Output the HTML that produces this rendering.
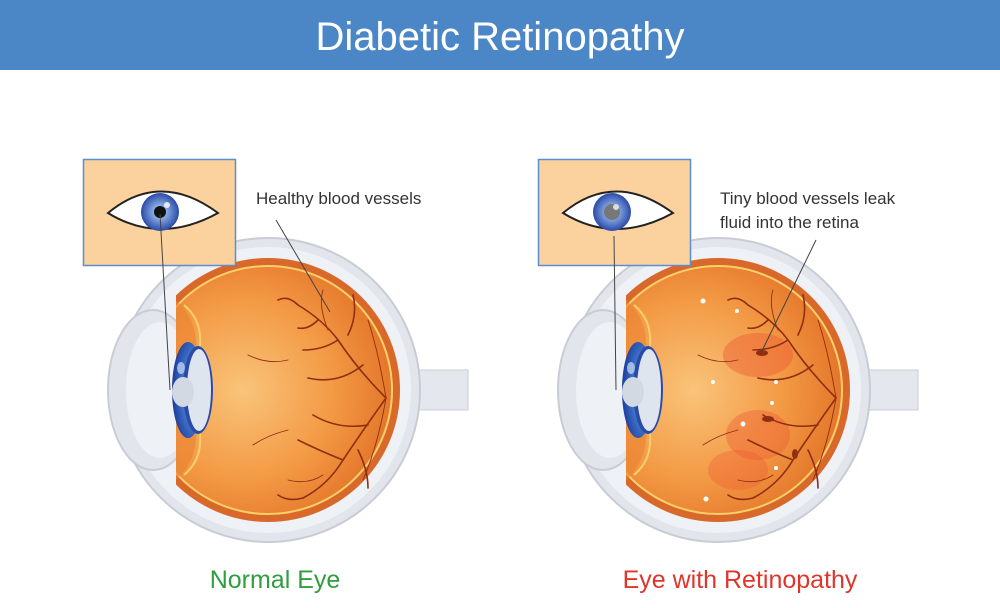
<!DOCTYPE html>
<html><head><meta charset="utf-8"><style>
html,body{margin:0;width:1000px;height:608px;overflow:hidden;background:#fff;font-family:"Liberation Sans",sans-serif}
svg{display:block}
</style></head><body>
<svg width="1000" height="608" viewBox="0 0 1000 608" xmlns="http://www.w3.org/2000/svg" font-family="Liberation Sans, sans-serif">
<defs>
<radialGradient id="org" cx="0.4" cy="0.5" r="0.6"><stop offset="0" stop-color="#f9c47a"/><stop offset="0.6" stop-color="#f39a45"/><stop offset="1" stop-color="#e4762a"/></radialGradient>
<radialGradient id="iris" cx="0.5" cy="0.5" r="0.5"><stop offset="0.3" stop-color="#8fb0e8"/><stop offset="1" stop-color="#2a4aa8"/></radialGradient>
<radialGradient id="iris2" cx="0.7" cy="0.5" r="0.7"><stop offset="0.2" stop-color="#5aa0e8"/><stop offset="1" stop-color="#1c3a9c"/></radialGradient>
<clipPath id="front"><rect x="-92" y="-140" width="240" height="280"/></clipPath>
<g id="eyeball">
  <rect x="140" y="-20" width="60" height="40" fill="#e4e8ee" stroke="#c8ccd4"/>
  <circle cx="0" cy="0" r="152" fill="#e2e6ec" stroke="#c8ccd4" stroke-width="2"/>
  <circle cx="0" cy="0" r="143" fill="#eef1f5"/>
  <ellipse cx="-115" cy="0" rx="45" ry="80" fill="#e2e6ec" stroke="#c8ccd4" stroke-width="2"/>
  <ellipse cx="-108" cy="0" rx="34" ry="68" fill="#eef1f5"/>
  <g clip-path="url(#front)">
    <circle cx="0" cy="0" r="132" fill="#d9692a"/>
    <circle cx="0" cy="0" r="124" fill="url(#org)" stroke="#fbd06a" stroke-width="2"/>
  </g>
  <path d="M-92 -90 Q-70 -70 -72 -40 L-72 40 Q-70 70 -92 90Z" fill="#ea8232" opacity="0.6"/>
  <path d="M-84 -85 Q-66 -70 -68 -45 L-68 45 Q-66 70 -84 85" fill="none" stroke="#fbd06a" stroke-width="2"/>
  <ellipse cx="-80" cy="0" rx="16" ry="48" fill="url(#iris2)"/>
  <ellipse cx="-87" cy="-22" rx="4" ry="6" fill="#cfe0f8" opacity="0.7"/>
  <ellipse cx="-70" cy="0" rx="15" ry="44" fill="#2a4aa8"/>
  <ellipse cx="-69" cy="0" rx="12" ry="41" fill="#dfe5ee"/>
  <ellipse cx="-85" cy="2" rx="11" ry="15" fill="#d3d9e2"/>
</g>
<g id="vessels" stroke="#8e2f12" fill="none" stroke-linecap="round">
  <path d="M118 8 Q90 -20 70 -50 Q55 -70 30 -85 M118 8 Q95 40 75 70 Q60 95 35 108 M70 -50 Q55 -40 35 -40 M75 70 Q50 60 30 50 M95 -25 Q70 -5 40 -12 M100 35 Q70 40 45 25 M30 -85 Q20 -95 10 -90 M50 -70 Q40 -60 30 -62 M35 108 Q20 112 10 105 M80 -55 Q90 -75 85 -95 M90 60 Q100 80 100 98" stroke-width="1.6"/>
  <path d="M118 8 Q110 -40 100 -70 M118 8 Q110 55 95 90 M60 -60 Q50 -85 55 -100 M55 85 Q40 95 20 90 M20 -30 Q0 -25 -20 -35 M20 40 Q0 45 -15 55" stroke-width="0.9"/>
</g>
</defs>
<rect x="0" y="0" width="1000" height="70" fill="#4b86c7"/>
<text x="500" y="50" text-anchor="middle" font-size="40" fill="#fff">Diabetic Retinopathy</text>

<!-- Left -->
<g transform="translate(268,390)"><use href="#eyeball"/><use href="#vessels"/></g>
<rect x="83.5" y="159.5" width="152" height="106" fill="#fbd29d" stroke="#5b8ed0" stroke-width="1.5"/>
<path d="M108 213 Q160 170 218 213 Q160 245 108 213Z" fill="#fff" stroke="#222" stroke-width="2"/>
<circle cx="160" cy="212" r="19" fill="url(#iris)"/>
<circle cx="160" cy="212" r="6" fill="#111"/>
<circle cx="167" cy="205" r="3" fill="#fff" opacity="0.8"/>
<line x1="160" y1="214" x2="170" y2="390" stroke="#444" stroke-width="1"/>
<line x1="276" y1="220" x2="330" y2="312" stroke="#444" stroke-width="1"/>
<text x="256" y="204" font-size="17" fill="#333">Healthy blood vessels</text>
<text x="275" y="588" text-anchor="middle" font-size="25" fill="#2e9e3e">Normal Eye</text>

<!-- Right -->
<g transform="translate(718,390)"><use href="#eyeball"/>
  <ellipse cx="40" cy="-35" rx="35" ry="22" fill="#ee5a35" opacity="0.45"/>
  <ellipse cx="40" cy="45" rx="32" ry="25" fill="#ee5a35" opacity="0.4"/>
  <ellipse cx="20" cy="80" rx="30" ry="20" fill="#ee5a35" opacity="0.35"/>
  <use href="#vessels"/>
  <ellipse cx="44" cy="-37" rx="6" ry="3" fill="#8e2f12"/>
  <ellipse cx="50" cy="29" rx="6" ry="3" fill="#8e2f12"/>
  <ellipse cx="77" cy="64" rx="3" ry="5" fill="#8e2f12"/>
  <g fill="#fff"><circle cx="-15" cy="-89" r="2.5"/><circle cx="19" cy="-79" r="2"/><circle cx="-5" cy="-8" r="2"/><circle cx="25" cy="34" r="2.5"/><circle cx="-12" cy="109" r="2.5"/><circle cx="58" cy="-8" r="2"/><circle cx="54" cy="13" r="2"/><circle cx="58" cy="78" r="2"/></g>
</g>
<rect x="538.5" y="159.5" width="152" height="106" fill="#fbd29d" stroke="#5b8ed0" stroke-width="1.5"/>
<path d="M563 213 Q615 170 673 213 Q615 245 563 213Z" fill="#fff" stroke="#222" stroke-width="2"/>
<circle cx="612" cy="212" r="19" fill="url(#iris)"/>
<circle cx="612" cy="212" r="8" fill="#777"/>
<circle cx="616" cy="207" r="3" fill="#ddd"/>
<line x1="614" y1="236" x2="616" y2="390" stroke="#444" stroke-width="1"/>
<line x1="816" y1="240" x2="761" y2="353" stroke="#444" stroke-width="1"/>
<text x="720" y="204" font-size="17" fill="#333">Tiny blood vessels leak</text>
<text x="720" y="228" font-size="17" fill="#333">fluid into the retina</text>
<text x="740" y="588" text-anchor="middle" font-size="25" fill="#e0352b">Eye with Retinopathy</text>
</svg>
</body></html>
